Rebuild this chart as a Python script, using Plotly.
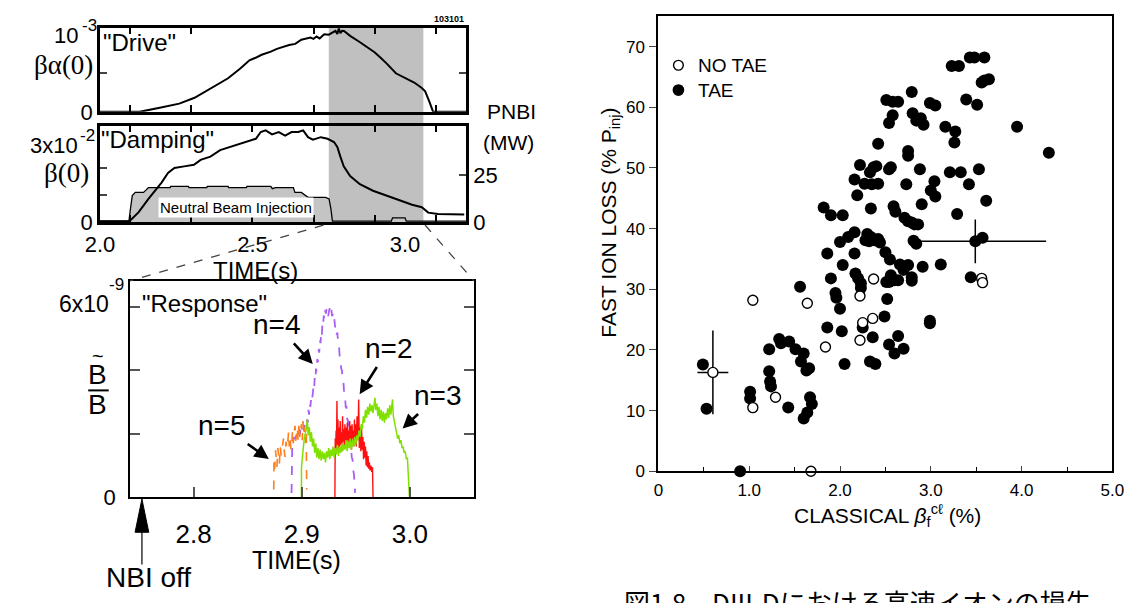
import plotly.graph_objects as go

W, H = 1141, 603


def fx(p):
    return p / W


def fy(p):
    return 1 - p / H


# ---------------- data ----------------
# "Drive": beta_alpha(0), units of 1e-3
drive_t = [2.00, 2.13, 2.20, 2.26, 2.31, 2.36, 2.39, 2.42, 2.46, 2.49, 2.51, 2.53, 2.56, 2.58,
           2.62, 2.64, 2.66, 2.69, 2.70, 2.71, 2.72, 2.735, 2.75, 2.765, 2.772, 2.778, 2.783,
           2.788, 2.794, 2.80, 2.82, 2.85, 2.87, 2.90, 2.92, 2.94, 2.97, 3.00, 3.03, 3.055,
           3.066, 3.080, 3.092, 3.20]
drive_val = [0.0, 0.0, 0.055, 0.106, 0.182, 0.300, 0.365, 0.435, 0.562, 0.668, 0.700, 0.739,
             0.780, 0.815, 0.866, 0.880, 0.934, 0.963, 0.945, 0.975, 0.951, 1.005, 1.000, 1.030,
             1.048, 1.010, 1.080, 1.020, 1.050, 1.048, 0.984, 0.908, 0.850, 0.773, 0.700, 0.625,
             0.499, 0.440, 0.380, 0.308, 0.266, 0.130, 0.0, 0.0]

# "Damping": beta(0), units of 1e-2
beta_t = [2.000, 2.095, 2.100, 2.127, 2.159, 2.180, 2.202, 2.223, 2.244, 2.276, 2.308, 2.330,
          2.362, 2.394, 2.426, 2.458, 2.490, 2.511, 2.527, 2.543, 2.564, 2.586, 2.607, 2.628,
          2.650, 2.666, 2.682, 2.698, 2.724, 2.746, 2.767, 2.778, 2.788, 2.799, 2.820, 2.852,
          2.895, 2.938, 2.980, 3.023, 3.055, 3.076, 3.108, 3.194]
beta_val = [0.03, 0.03, 0.07, 0.37, 0.86, 1.16, 1.46, 1.82, 2.00, 2.06, 2.12, 2.30, 2.42, 2.66,
            2.78, 2.90, 3.02, 3.08, 3.33, 3.39, 3.24, 3.33, 3.20, 3.33, 3.33, 3.39, 3.14, 3.05,
            3.14, 3.08, 2.96, 2.78, 2.42, 2.06, 1.70, 1.40, 1.16, 0.98, 0.80, 0.64, 0.55, 0.35,
            0.30, 0.28]

# Neutral beam power, MW
nbi_t = [2.000, 2.095, 2.100, 2.106, 2.116, 2.143, 2.159, 2.230, 2.232, 2.290, 2.292, 2.350,
         2.352, 2.420, 2.422, 2.480, 2.482, 2.560, 2.565, 2.575, 2.634, 2.639, 2.660, 2.682,
         2.740, 2.751, 2.757, 2.762, 2.955, 2.959, 3.000, 3.004, 3.200]
nbi_mw = [0.5, 0.5, 7.0, 14.1, 15.8, 15.8, 18.4, 18.4, 19.0, 19.0, 18.4, 18.4, 19.0, 19.0, 18.4,
          18.4, 19.0, 19.0, 17.8, 18.4, 18.4, 15.8, 15.8, 13.2, 13.2, 12.3, 7.1, 0.5, 0.5, 2.3,
          2.3, 0.5, 0.5]

WINDOW = (2.75, 3.06)

# "Response": mode amplitudes B~/B, units of 1e-9
n5_t = [2.8741, 2.8744, 2.8750, 2.8758, 2.8765, 2.8771, 2.8778, 2.8786, 2.8793, 2.8801, 2.8810,
        2.8822, 2.8831, 2.8840, 2.8846, 2.8855, 2.8862, 2.8870, 2.8878, 2.8885, 2.8892, 2.8900,
        2.8906, 2.8915, 2.8922, 2.8930, 2.8938, 2.8945, 2.8952, 2.8960, 2.8967, 2.8975, 2.8983,
        2.8991, 2.8998, 2.9005, 2.9012, 2.9020, 2.9027, 2.9035, 2.9042, 2.9046]
n5_b = [0.25, 1.17, 0.90, 1.48, 1.10, 0.96, 1.55, 1.37, 1.05, 1.60, 1.32, 1.58, 1.85, 1.40, 1.27,
        1.75, 1.55, 1.68, 2.05, 1.60, 1.89, 1.50, 1.58, 2.10, 1.70, 1.99, 2.25, 1.78, 1.95, 2.19,
        1.75, 2.35, 1.89, 2.05, 2.30, 1.80, 2.40, 1.99, 2.20, 1.70, 2.09, 0.25]

n4_t = [2.8906, 2.8908, 2.8912, 2.8920, 2.8930, 2.8940, 2.8950, 2.8960, 2.8970, 2.8980, 2.8990,
        2.9000, 2.9010, 2.9020, 2.9030, 2.9040, 2.9050, 2.9057, 2.9062, 2.9068, 2.9074, 2.9080,
        2.9087, 2.9094, 2.9102, 2.9108, 2.9114, 2.9120, 2.9126, 2.9132, 2.9138, 2.9144, 2.9150,
        2.9156, 2.9162, 2.9168, 2.9174, 2.9180, 2.9186, 2.9192, 2.9198, 2.9204, 2.9210, 2.9217,
        2.9224, 2.9231, 2.9238, 2.9245, 2.9252, 2.9259, 2.9266, 2.9274, 2.9281, 2.9288, 2.9295,
        2.9302, 2.9309, 2.9316, 2.9323, 2.9330, 2.9337, 2.9344, 2.9351, 2.9358, 2.9365, 2.9372,
        2.9379, 2.9386, 2.9393, 2.9400, 2.9407, 2.9414, 2.9421, 2.9428, 2.9435, 2.9442, 2.9449,
        2.9456, 2.9463, 2.9470, 2.9477, 2.9484, 2.9494]
n4_b = [0.14, 1.20, 1.58, 1.75, 1.90, 1.82, 1.98, 1.90, 2.05, 1.95, 2.12, 2.02, 2.20, 2.10, 2.30,
        2.20, 2.45, 2.35, 2.75, 2.60, 2.95, 2.85, 3.10, 3.00, 3.20, 3.45, 3.35, 3.75, 3.65, 4.05,
        3.95, 4.35, 4.25, 4.65, 4.55, 4.95, 4.85, 5.20, 5.10, 5.48, 5.40, 5.72, 5.60, 5.88, 5.78,
        5.96, 5.85, 5.70, 5.85, 5.95, 5.80, 5.92, 5.70, 5.78, 5.55, 5.60, 5.35, 5.40, 5.12, 5.18,
        4.85, 4.80, 4.45, 4.40, 4.05, 4.00, 3.65, 3.62, 3.25, 3.22, 2.85, 2.85, 2.45, 2.42, 2.05,
        2.02, 1.65, 1.62, 1.25, 1.20, 0.85, 0.70, 0.14]

n2_t = [2.9307, 2.9310, 2.9314, 2.9318, 2.9322, 2.9326, 2.9330, 2.9335, 2.9340, 2.9345, 2.9350,
        2.9356, 2.9361, 2.9367, 2.9372, 2.9378, 2.9383, 2.9389, 2.9394, 2.9400, 2.9405, 2.9411,
        2.9416, 2.9422, 2.9427, 2.9433, 2.9438, 2.9444, 2.9449, 2.9455, 2.9460, 2.9466, 2.9471,
        2.9477, 2.9482, 2.9488, 2.9493, 2.9500, 2.9505, 2.9512, 2.9520, 2.9527, 2.9533, 2.9540,
        2.9547, 2.9554, 2.9560, 2.9566, 2.9572, 2.9578, 2.9584, 2.9590, 2.9596, 2.9602, 2.9608,
        2.9614, 2.9620, 2.9626, 2.9632, 2.9640, 2.9648, 2.9655, 2.9660]
n2_b = [0.0, 1.85, 1.35, 2.10, 1.50, 3.03, 1.60, 2.45, 1.40, 2.20, 1.55, 2.40, 1.65, 2.05, 1.45,
        2.55, 1.75, 2.15, 1.60, 2.30, 1.70, 2.20, 1.55, 2.35, 1.80, 2.10, 1.65, 2.40, 1.70, 2.25,
        1.50, 2.30, 1.85, 2.10, 1.60, 2.45, 1.75, 2.30, 1.60, 2.55, 1.80, 3.08, 1.55, 2.20, 1.45,
        2.15, 1.50, 1.90, 1.20, 1.75, 1.25, 1.60, 1.00, 1.45, 0.95, 1.30, 0.90, 1.10, 0.85, 1.00,
        0.80, 0.95, 0.0]

n3_t = [2.8997, 2.8998, 2.9010, 2.9025, 2.9040, 2.9052, 2.9060, 2.9070, 2.9080, 2.9090, 2.9100,
        2.9110, 2.9120, 2.9130, 2.9140, 2.9150, 2.9160, 2.9170, 2.9180, 2.9190, 2.9200, 2.9210,
        2.9220, 2.9230, 2.9240, 2.9250, 2.9260, 2.9270, 2.9280, 2.9290, 2.9300, 2.9310, 2.9320,
        2.9330, 2.9340, 2.9350, 2.9360, 2.9370, 2.9380, 2.9390, 2.9400, 2.9410, 2.9420, 2.9430,
        2.9440, 2.9450, 2.9460, 2.9470, 2.9480, 2.9490, 2.9500, 2.9510, 2.9520, 2.9530, 2.9540,
        2.9550, 2.9560, 2.9570, 2.9580, 2.9590, 2.9600, 2.9610, 2.9620, 2.9630, 2.9640, 2.9650,
        2.9660, 2.9670, 2.9678, 2.9685, 2.9695, 2.9705, 2.9715, 2.9725, 2.9735, 2.9745, 2.9755,
        2.9765, 2.9775, 2.9785, 2.9795, 2.9805, 2.9815, 2.9825, 2.9835, 2.9840, 2.9848, 2.9858,
        2.9868, 2.9878, 2.9888, 2.9898, 2.9908, 2.9918, 2.9928, 2.9938, 2.9948, 2.9958, 2.9968,
        2.9978, 2.9988, 2.9997]
n3_b = [0.0, 0.95, 1.40, 1.90, 2.10, 2.45, 1.95, 2.20, 1.75, 2.05, 1.60, 1.85, 1.40, 1.70, 1.25,
        1.55, 1.20, 1.50, 1.15, 1.45, 1.20, 1.40, 1.10, 1.45, 1.25, 1.55, 1.20, 1.50, 1.30, 1.60,
        1.25, 1.55, 1.35, 1.65, 1.30, 1.60, 1.40, 1.70, 1.45, 1.65, 1.50, 1.80, 1.45, 1.75, 1.55,
        1.85, 1.50, 1.80, 1.60, 1.90, 1.65, 1.95, 1.80, 2.10, 1.90, 2.30, 2.15, 2.55, 2.35, 2.75,
        2.50, 2.85, 2.60, 2.95, 2.70, 2.90, 2.65, 3.05, 3.13, 2.75, 2.95, 2.55, 2.85, 2.45, 2.75,
        2.40, 2.70, 2.35, 2.65, 2.45, 2.80, 2.50, 2.90, 2.60, 3.05, 3.08, 2.55, 2.40, 2.20, 2.00,
        1.85, 1.95, 1.70, 1.80, 1.55, 1.60, 1.40, 1.45, 1.20, 1.25, 0.60, 0.0]

# Fast ion loss vs classical beta_f
tae_beta = [3.43, 3.48, 3.59, 3.23, 3.31, 3.56, 3.59, 3.64, 3.39, 3.51, 2.79, 2.51, 2.58, 2.64,
            2.99, 3.05, 2.80, 2.58, 2.54, 2.84, 2.89, 2.92, 3.16, 3.27, 3.26, 3.95, 4.30, 2.42,
            2.75, 2.75, 2.22, 2.37, 2.40, 2.33, 2.54, 2.56, 2.88, 3.21, 3.33, 3.53, 2.16, 2.27,
            2.35, 2.42, 2.73, 3.04, 3.42, 2.19, 3.00, 3.05, 3.61, 2.90, 2.59, 2.61, 1.82, 1.90,
            2.03, 2.34, 3.29, 2.71, 2.75, 2.79, 2.82, 2.86, 2.16, 2.09, 2.00, 2.30, 2.34, 2.32,
            2.38, 2.44, 2.42, 2.28, 2.81, 2.84, 3.49, 3.57, 1.86, 2.16, 2.50, 2.55, 2.03, 2.66,
            2.75, 2.70, 2.91, 3.11, 1.90, 2.17, 2.20, 2.23, 2.23, 2.56, 2.60, 2.64, 2.51, 2.54,
            2.79, 2.79, 3.44, 1.56, 1.95, 1.96, 2.52, 2.00, 2.49, 2.99, 2.99, 1.86, 2.02, 2.25,
            2.36, 2.64, 2.54, 2.70, 2.60, 2.05, 2.33, 2.39, 1.22, 1.33, 1.35, 1.44, 1.51, 1.60,
            1.57, 1.63, 1.66, 1.22, 1.23, 1.24, 1.01, 1.01, 1.43, 1.67, 1.69, 1.64, 1.60, 0.49,
            0.53, 0.90]
tae_loss = [68.2, 68.2, 68.2, 66.8, 66.8, 64.1, 64.4, 64.6, 61.3, 60.4, 62.5, 61.2, 60.9, 60.9,
            60.7, 60.3, 59.0, 58.7, 57.4, 57.8, 58.2, 57.1, 56.8, 56.0, 54.2, 56.8, 52.5, 54.0,
            52.8, 52.0, 50.5, 50.1, 50.3, 49.3, 49.8, 50.1, 49.8, 49.3, 49.3, 49.8, 48.1, 47.4,
            47.3, 47.4, 47.3, 47.8, 47.3, 45.5, 46.3, 45.3, 44.6, 44.0, 43.7, 42.8, 43.5, 42.2,
            42.2, 43.3, 42.4, 41.8, 41.2, 41.0, 40.7, 40.7, 39.4, 38.6, 37.8, 39.1, 38.6, 37.9,
            38.1, 37.7, 38.3, 38.1, 38.0, 37.5, 37.9, 38.5, 35.9, 35.9, 36.1, 34.9, 34.0, 34.1,
            34.0, 33.2, 33.7, 34.1, 31.8, 32.6, 31.8, 31.0, 30.2, 32.3, 31.5, 31.5, 31.2, 31.2,
            32.0, 31.4, 32.0, 30.4, 29.4, 28.6, 28.4, 26.8, 25.5, 24.8, 24.4, 23.7, 23.1, 23.7,
            22.1, 22.3, 20.9, 20.2, 19.4, 17.7, 18.1, 17.7, 20.1, 21.8, 21.1, 21.4, 20.1, 19.4,
            18.1, 16.6, 17.0, 16.5, 14.8, 14.0, 13.1, 12.0, 10.5, 12.2, 11.1, 9.7, 8.7, 17.6,
            10.3, 0.0]
notae_beta = [1.04, 1.64, 2.22, 2.37, 3.56, 3.57, 0.60, 1.04, 1.29, 1.84, 2.22, 2.25, 2.36, 1.68]
notae_loss = [28.2, 27.7, 28.9, 31.7, 31.8, 31.1, 16.3, 10.5, 12.2, 20.5, 21.6, 24.5, 25.2, 0.0]

# representative uncertainties
err_beta = [0.60, 3.49]
err_loss = [16.3, 37.9]
err_beta_minus = [0.17, 0.65]
err_beta_plus = [0.17, 0.78]
err_loss_pm = [6.9, 3.6]

SANS = "Liberation Sans, Arial, sans-serif"
SERIF = "Liberation Serif, Times New Roman, serif"
BLACK = "#000000"

fig = go.Figure()

# ---- left top panels ----
fig.add_trace(go.Scatter(x=drive_t, y=drive_val, mode="lines", xaxis="x", yaxis="y",
                         line=dict(color=BLACK, width=2), showlegend=False))
fig.add_trace(go.Scatter(x=nbi_t, y=nbi_mw, mode="lines", xaxis="x2", yaxis="y2",
                         fill="tozeroy", fillcolor="#c4c4c4",
                         line=dict(color=BLACK, width=1.3), showlegend=False))
fig.add_trace(go.Scatter(x=beta_t, y=beta_val, mode="lines", xaxis="x2", yaxis="y3",
                         line=dict(color=BLACK, width=2), showlegend=False))

# ---- response panel ----
fig.add_trace(go.Scatter(x=n4_t, y=n4_b, mode="lines", xaxis="x3", yaxis="y4",
                         line=dict(color="#a95ef5", width=1.8, dash="dash"), showlegend=False))
fig.add_trace(go.Scatter(x=n5_t, y=n5_b, mode="lines", xaxis="x3", yaxis="y4",
                         line=dict(color="#ff7d1a", width=1.6, dash="dash"), showlegend=False))
fig.add_trace(go.Scatter(x=n2_t, y=n2_b, mode="lines", xaxis="x3", yaxis="y4",
                         line=dict(color="#ff1010", width=1.4), showlegend=False))
fig.add_trace(go.Scatter(x=n3_t, y=n3_b, mode="lines", xaxis="x3", yaxis="y4",
                         line=dict(color="#80e000", width=1.5), showlegend=False))

# ---- fast ion loss scatter ----
fig.add_trace(go.Scatter(x=err_beta, y=err_loss, mode="markers", xaxis="x4", yaxis="y5",
                         marker=dict(size=1, opacity=0),
                         error_x=dict(type="data", array=err_beta_plus, arrayminus=err_beta_minus,
                                      color=BLACK, thickness=1.5, width=0),
                         error_y=dict(type="data", array=err_loss_pm, color=BLACK,
                                      thickness=1.5, width=0),
                         showlegend=False, cliponaxis=False))
fig.add_trace(go.Scatter(x=tae_beta, y=tae_loss, mode="markers", xaxis="x4", yaxis="y5",
                         marker=dict(size=12, color=BLACK, line=dict(width=0)),
                         name="TAE", showlegend=False, cliponaxis=False))
fig.add_trace(go.Scatter(x=notae_beta, y=notae_loss, mode="markers", xaxis="x4", yaxis="y5",
                         marker=dict(size=10, color="white", symbol="circle",
                                     line=dict(color=BLACK, width=1.4)),
                         name="NO TAE", showlegend=False, cliponaxis=False))

frame = dict(showline=True, linecolor=BLACK, showgrid=False, zeroline=False)
tfont = dict(family=SANS, size=22, color=BLACK)

left_minor = dict(tick0=2.1, dtick=0.2, ticks="inside", ticklen=7, tickwidth=1.5,
                  tickcolor=BLACK)

fig.update_layout(
    width=W, height=H,
    margin=dict(l=0, r=0, t=0, b=0),
    paper_bgcolor="white", plot_bgcolor="rgba(0,0,0,0)",
    showlegend=False,
    xaxis=dict(domain=[fx(87), fx(462)], range=[2.0, 3.2], anchor="y", **frame,
               linewidth=2.5, mirror="ticks", ticks="", showticklabels=False,
               minor=left_minor),
    yaxis=dict(domain=[fy(114.3), fy(28.3)], range=[0, 1.09], anchor="x", **frame,
               linewidth=2.5, mirror="ticks", ticks="inside", ticklen=7, tickwidth=1.5,
               tickvals=[0, 0.5], ticktext=["0", ""], tickfont=tfont),
    xaxis2=dict(domain=[fx(87), fx(462)], range=[2.0, 3.2], anchor="y2", **frame,
                linewidth=2.5, mirror="ticks", ticks="", tickvals=[2.0, 2.5, 3.0],
                ticktext=["2.0", "2.5", "3.0"], tickfont=dict(family=SANS, size=22, color=BLACK),
                ticklabelstandoff=1, minor=left_minor),
    yaxis2=dict(domain=[fy(227), fy(128.3)], range=[0, 51.4], anchor="x2", side="right",
                **frame, linewidth=2.5, ticks="inside", ticklen=7, tickwidth=1.5,
                tickvals=[0, 25], ticktext=["0", "25"], tickfont=tfont),
    yaxis3=dict(range=[0, 3.57], overlaying="y2", anchor="x2", side="left", **frame,
                linewidth=2.5, ticks="inside", ticklen=7, tickwidth=1.5,
                tickvals=[0, 1, 2], ticktext=["0", "", ""], tickfont=tfont),
    xaxis3=dict(domain=[fx(118), fx(470)], range=[2.7413, 3.0593], anchor="y4", **frame,
                linewidth=2.2, mirror=True, ticks="inside", ticklen=10, tickwidth=1.5,
                tickcolor="#555555", tickvals=[2.8, 2.9, 3.0], ticktext=["2.8", "2.9", "3.0"],
                tickfont=dict(family=SANS, size=26, color=BLACK), ticklabelstandoff=12),
    yaxis4=dict(domain=[fy(508.3), fy(286.7)], range=[0, 6.82], anchor="x3", **frame,
                linewidth=2.2, mirror="ticks", ticks="inside", ticklen=10, tickwidth=1.5,
                tickcolor="#555555", tickvals=[0, 2, 4, 6], ticktext=["0", "", "", ""],
                tickfont=tfont, ticklabelstandoff=8),
    xaxis4=dict(domain=[fx(659), fx(1124)], range=[0, 5], anchor="y5", **frame,
                linewidth=2, mirror=True, ticks="inside", ticklen=5, tickwidth=1.3,
                tickvals=[0, 1, 2, 3, 4, 5], ticktext=["0", "1.0", "2.0", "3.0", "4.0", "5.0"],
                tickfont=dict(family=SANS, size=17, color=BLACK), ticklabelstandoff=2,
                minor=dict(dtick=0.5, ticks="inside", ticklen=4, tickcolor=BLACK)),
    yaxis5=dict(domain=[fy(481.7), fy(16)], range=[0, 75.1], anchor="x4", **frame,
                linewidth=2, mirror=True, ticks="outside", ticklen=7, tickwidth=1.3,
                tickvals=[0, 10, 20, 30, 40, 50, 60, 70],
                tickfont=dict(family=SANS, size=17, color=BLACK), ticklabelstandoff=1),
)

shapes = [
    # analysis window shading across both upper panels
    dict(type="rect", xref="x", yref="paper", x0=WINDOW[0], x1=WINDOW[1],
         y0=fy(227), y1=fy(28.3), fillcolor="#c0c0c0", line=dict(width=0), layer="below"),
    # zoom guides to the response panel
    dict(type="line", xref="paper", yref="paper", x0=fx(316), y0=fy(230), x1=fx(118), y1=fy(287),
         line=dict(color="#444444", width=1.3, dash="dash")),
    dict(type="line", xref="paper", yref="paper", x0=fx(420), y0=fy(230), x1=fx(470), y1=fy(287),
         line=dict(color="#444444", width=1.3, dash="dash")),
    # fraction bar in B~/B
    dict(type="line", xref="paper", yref="paper", x0=fx(75), y0=fy(399), x1=fx(96), y1=fy(399),
         line=dict(color=BLACK, width=2)),
    # NBI off arrow
    dict(type="line", xref="paper", yref="paper", x0=fx(130), y0=fy(540), x1=fx(130), y1=fy(577),
         line=dict(color="#333333", width=1.5)),
    dict(type="path", xref="paper", yref="paper",
         path=f"M {fx(123)},{fy(544)} L {fx(130)},{fy(510)} L {fx(137)},{fy(544)} Z",
         fillcolor=BLACK, line=dict(color=BLACK, width=1)),
    # legend symbols
    dict(type="circle", xref="paper", yref="paper", x0=fx(674.5), x1=fx(684.5),
         y0=fy(71.7), y1=fy(61.7), line=dict(color=BLACK, width=1.4), fillcolor="white"),
    dict(type="circle", xref="paper", yref="paper", x0=fx(673.5), x1=fx(685.5),
         y0=fy(98), y1=fy(86), line=dict(color=BLACK, width=0), fillcolor=BLACK),
]
fig.update_layout(shapes=shapes)


def txt(x, y, s, size, family=SANS, xanchor="center", **kw):
    return dict(xref="paper", yref="paper", x=fx(x), y=fy(y), text=s, showarrow=False,
                xanchor=xanchor, yanchor="middle",
                font=dict(family=family, size=size, color=BLACK), **kw)


def arrow(label, tx, ty, hx, hy, size=28):
    return dict(xref="paper", yref="paper", x=fx(hx), y=fy(hy), ax=tx - hx, ay=ty - hy,
                text=label, showarrow=True, arrowhead=2, arrowsize=1.1, arrowwidth=2.6,
                arrowcolor=BLACK, standoff=0, startstandoff=2,
                font=dict(family=SANS, size=size, color=BLACK))


annotations = [
    txt(445, 19, "<b>103101</b>", 9),
    txt(128, 43, "\"Drive\"", 24),
    txt(146, 143, "\"Damping\"", 24),
    txt(52, 36, "10", 22),
    txt(76, 26, "-3", 17),
    txt(50, 66, "βα(0)", 27, family=SERIF),
    txt(40, 149, "3x10", 22),
    txt(74, 138, "-2", 17),
    txt(53, 177, "β(0)", 27, family=SERIF),
    txt(509, 114, "PNBI", 21),
    txt(505, 146, "(MW)", 21),
    txt(226, 212, "Neutral Beam Injection", 15, bgcolor="white", borderpad=1),
    txt(246, 276, "TIME(s)", 24),
    txt(194, 310, "\"Response\"", 24),
    txt(71, 311, "6x10", 23),
    txt(104, 291, "-9", 17),
    txt(85, 383, "B", 28),
    txt(85, 364, "~", 20),
    txt(85, 413, "B", 28),
    txt(288, 572, "TIME(s)", 25),
    txt(137, 590, "NBI off", 28),
    arrow("n=4", 269, 333, 305, 372),
    arrow("n=2", 382, 357, 353, 403),
    arrow("n=3", 432, 405, 397, 438),
    arrow("n=5", 213, 436, 260, 469),
    txt(698, 67, "NO TAE", 19, xanchor="left"),
    txt(698, 92, "TAE", 19, xanchor="left"),
    txt(894, 527, "CLASSICAL <i>β</i><sub>f</sub><sup>cℓ</sup> (%)", 21),
    txt(609, 228, "FAST ION LOSS (% P<sub>inj</sub>)", 21, textangle=-90),
    txt(622, 615, "図1.8　DIII-Dにおける高速イオンの損失", 26,
        family="Noto Sans CJK JP", xanchor="left"),
]
fig.update_layout(annotations=annotations)

fig.write_html("out.html")
